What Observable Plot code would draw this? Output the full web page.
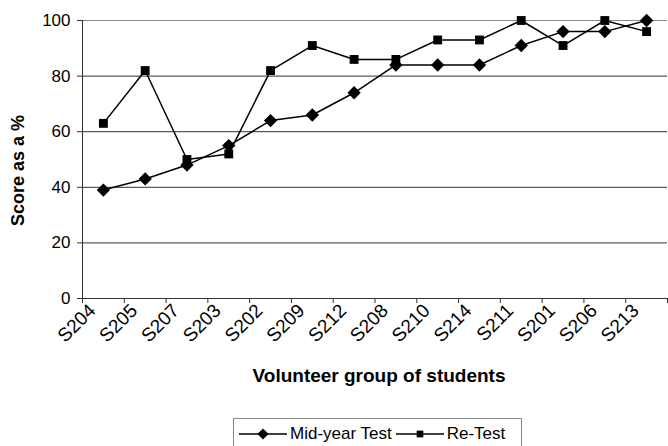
<!DOCTYPE html>
<html>
<head>
<meta charset="utf-8">
<script src="https://cdn.jsdelivr.net/npm/d3@7"></script>
<script src="https://cdn.jsdelivr.net/npm/@observablehq/plot@0.6"></script>
<style>
  body { margin: 0; background: #fff; font-family: "Liberation Sans", Arial, sans-serif; }
  #wrap { position: relative; width: 668px; height: 446px; overflow: hidden; }
  #legend { position: absolute; left: 233px; top: 418px; width: 289px; height: 32px;
            border: 1px solid #888; box-sizing: border-box; display: flex; align-items: center;
            padding-left: 5px; font-size: 17px; color: #000; white-space: nowrap; }
  #legend svg { display: block; }
  #legend .lab { margin: 0 4px 0 3px; }
</style>
</head>
<body>
<div id="wrap">
  <div id="chart"></div>
  <div id="legend"></div>
</div>
<script>
const students = ["S204","S205","S207","S203","S202","S209","S212","S208","S210","S214","S211","S201","S206","S213"];
const midYear  = [39, 43, 48, 55, 64, 66, 74, 84, 84, 84, 91, 96, 96, 100];
const reTest   = [63, 82, 50, 52, 82, 91, 86, 86, 93, 93, 100, 91, 100, 96];
const yTicks   = [0, 20, 40, 60, 80, 100];
const seriesNames = ["Mid-year Test", "Re-Test"];
const seriesSymbols = ["diamond2", "square"];

const rows = students.flatMap((s, i) => [
  {student: s, pos: i + 0.5, series: seriesNames[0], score: midYear[i]},
  {student: s, pos: i + 0.5, series: seriesNames[1], score: reTest[i]}
]);
const centers = students.map((s, i) => i + 0.5);
const bounds = d3.range(0, students.length + 1);

const chart = Plot.plot({
  width: 668,
  height: 446,
  marginTop: 20,
  marginBottom: 148,
  marginLeft: 82,
  marginRight: 1,
  style: {fontFamily: "'Liberation Sans', Arial, sans-serif", background: "#fff", color: "#000"},
  x: {type: "linear", domain: [0, students.length]},
  y: {domain: [0, 100]},
  marks: [
    Plot.ruleY(yTicks.filter(d => d > 0 && d < 100), {stroke: "#333", strokeWidth: 1}),
    Plot.ruleY([100], {stroke: "#888", strokeWidth: 1}),
    Plot.ruleY([0], {stroke: "#333", strokeWidth: 1}),
    Plot.ruleX([0], {stroke: "#333", strokeWidth: 1}),
    Plot.axisY(yTicks, {tickSize: 5, tickPadding: 7, fontSize: 17, label: null, stroke: "#333", color: "#000"}),
    Plot.axisX(bounds, {tickSize: 5, tickFormat: () => "", label: null, stroke: "#333"}),
    Plot.axisX(centers, {tickSize: 0, tickPadding: 9, tickRotate: -45, fontSize: 19, dx: -11,
      tickFormat: d => students[Math.floor(d)], label: null}),
    Plot.text(["Score as a %"], {frameAnchor: "left", textAnchor: "middle", dx: -64, dy: 11, rotate: -90,
      fontWeight: "bold", fontSize: 18, fill: "#000"}),
    Plot.text(["Volunteer group of students"], {frameAnchor: "bottom", dx: 4, dy: 83,
      fontWeight: "bold", fontSize: 19, fill: "#000"}),
    Plot.line(rows, {x: "pos", y: "score", z: "series", stroke: "#000", strokeWidth: 1.5}),
    Plot.dot(rows.filter(d => d.series === seriesNames[0]), {x: "pos", y: "score",
      symbol: () => seriesSymbols[0], fill: "#000", stroke: "none", r: 6}),
    Plot.dot(rows.filter(d => d.series === seriesNames[1]), {x: "pos", y: "score",
      symbol: () => seriesSymbols[1], fill: "#000", stroke: "none", r: 5})
  ]
});
document.getElementById("chart").appendChild(chart);

// Legend
const legend = document.getElementById("legend");
seriesNames.forEach((name, k) => {
  const sym = d3.symbol(k === 0 ? d3.symbolDiamond2 : d3.symbolSquare, k === 0 ? 80 : 45)();
  const svg = d3.create("svg").attr("width", 48).attr("height", 14);
  svg.append("line").attr("x1", 0).attr("x2", 48).attr("y1", 7).attr("y2", 7)
    .attr("stroke", "#000").attr("stroke-width", 1.5);
  svg.append("path").attr("d", sym).attr("transform", "translate(24,7)").attr("fill", "#000");
  legend.appendChild(svg.node());
  const span = document.createElement("span");
  span.className = "lab";
  span.textContent = name;
  legend.appendChild(span);
});
</script>
</body>
</html>
